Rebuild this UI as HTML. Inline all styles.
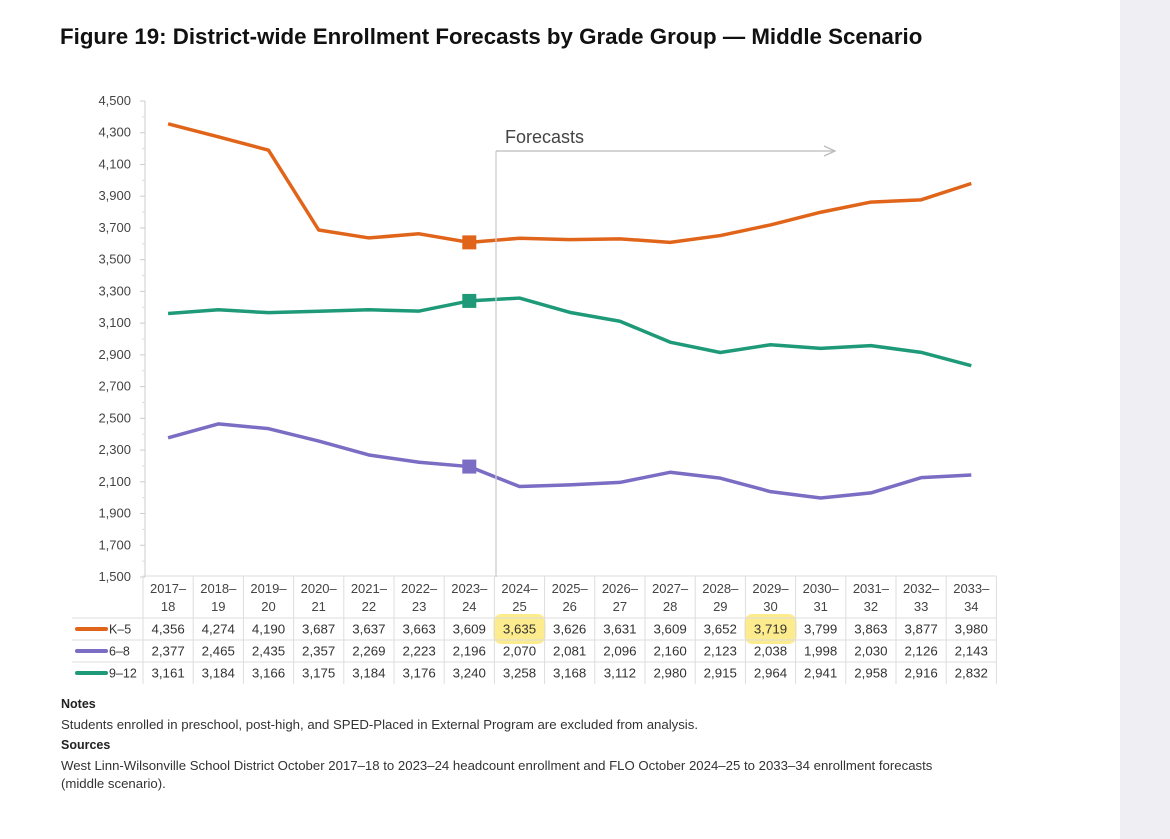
<!DOCTYPE html>
<html><head><meta charset="utf-8"><style>
body{margin:0;width:1170px;height:839px;background:#fff;font-family:"Liberation Sans",sans-serif;overflow:hidden;position:relative}
.side{position:absolute;left:1120px;top:0;width:50px;height:839px;background:#efeff3}
</style></head><body>
<div class="side"></div>
<svg width="1170" height="839" style="position:absolute;left:0;top:0" id="chart">
<text x="60" y="44" font-size="22.3" font-weight="bold" fill="#111">Figure 19: District-wide Enrollment Forecasts by Grade Group — Middle Scenario</text>
<g id="axis"></g><g id="table"></g><g id="series"></g>
<g>
<line x1="496" y1="151" x2="496" y2="577" stroke="#ccc" stroke-width="1.3"/>
<line x1="496" y1="151" x2="833" y2="151" stroke="#bbb" stroke-width="1.3"/>
<path d="M824,146 L835,151 L824,156" fill="none" stroke="#bbb" stroke-width="1.3"/>
<text x="505" y="143" font-size="18" fill="#444">Forecasts</text>
</g>
<text x="61" y="708" font-size="12.5" font-weight="bold" fill="#222">Notes</text>
<text x="61" y="729" font-size="13.2" fill="#333">Students enrolled in preschool, post-high, and SPED-Placed in External Program are excluded from analysis.</text>
<text x="61" y="749" font-size="12.5" font-weight="bold" fill="#222">Sources</text>
<text x="61" y="770" font-size="13.2" fill="#333">West Linn-Wilsonville School District October 2017–18 to 2023–24 headcount enrollment and FLO October 2024–25 to 2033–34 enrollment forecasts</text>
<text x="61" y="788" font-size="13.2" fill="#333">(middle scenario).</text>
</svg>
<script>
const years=["2017–|18","2018–|19","2019–|20","2020–|21","2021–|22","2022–|23","2023–|24","2024–|25","2025–|26","2026–|27","2027–|28","2028–|29","2029–|30","2030–|31","2031–|32","2032–|33","2033–|34"];
const k5=[4356,4274,4190,3687,3637,3663,3609,3635,3626,3631,3609,3652,3719,3799,3863,3877,3980];
const g68=[2377,2465,2435,2357,2269,2223,2196,2070,2081,2096,2160,2123,2038,1998,2030,2126,2143];
const g912=[3161,3184,3166,3175,3184,3176,3240,3258,3168,3112,2980,2915,2964,2941,2958,2916,2832];
const yTicks=[4500,4300,4100,3900,3700,3500,3300,3100,2900,2700,2500,2300,2100,1900,1700,1500];
const NS="http://www.w3.org/2000/svg";
const x0=143,cw=50.2,yTop=101,yBot=577,vMin=1500,vMax=4500;
const xs=i=>x0+cw*(i+0.5);
const ys=v=>yBot-(v-vMin)/(vMax-vMin)*(yBot-yTop);
function mk(tag,attrs,parent,txt){const e=document.createElementNS(NS,tag);for(const k in attrs)e.setAttribute(k,attrs[k]);if(txt!==undefined)e.textContent=txt;parent.appendChild(e);return e;}
const ax=document.getElementById('axis');
mk('line',{x1:145,y1:yTop,x2:145,y2:yBot,stroke:'#ccc'},ax);
yTicks.forEach(v=>{const y=ys(v);
 mk('line',{x1:140,y1:y,x2:145,y2:y,stroke:'#ccc'},ax);
 const t=mk('text',{x:131,y:y+4,'font-size':13,fill:'#444','text-anchor':'end'},ax,v.toLocaleString('en-US'));
 
 
});
for(let v=vMin+100;v<vMax;v+=200){const y=ys(v);mk('line',{x1:142,y1:y,x2:145,y2:y,stroke:'#ddd'},ax);}
const tb=document.getElementById('table');
[[7,0],[12,0]].forEach(([c,r])=>{const h=mk('rect',{x:x0+cw*c-1,y:614,width:cw+2,height:30,rx:8,fill:'#fde97a',opacity:0.85},tb);
 
 });
mk('line',{x1:x0,y1:576,x2:x0+cw*17,y2:576,stroke:'#ddd'},tb);
mk('line',{x1:72,y1:618,x2:x0+cw*17,y2:618,stroke:'#ddd'},tb);
mk('line',{x1:72,y1:640,x2:x0+cw*17,y2:640,stroke:'#ddd'},tb);
mk('line',{x1:72,y1:662,x2:x0+cw*17,y2:662,stroke:'#ddd'},tb);
for(let i=0;i<=17;i++)mk('line',{x1:x0+cw*i,y1:576,x2:x0+cw*i,y2:684,stroke:'#ddd'},tb);
years.forEach((yr,i)=>{const [a,b]=yr.split('|');
 const t1=mk('text',{x:xs(i),y:593,'font-size':13,fill:'#444','text-anchor':'middle'},tb,a);
 
 
 const t2=mk('text',{x:xs(i),y:611,'font-size':13,fill:'#444','text-anchor':'middle'},tb,b);
 
 
});
const series=[{n:'K–5',d:k5,c:'#e0651a',ry:629,key:'k-5'},{n:'6–8',d:g68,c:'#7b6cc4',ry:651,key:'6-8'},{n:'9–12',d:g912,c:'#1e9a78',ry:673,key:'9-12'}];
const sg=document.getElementById('series');
series.forEach(s=>{
 const leg=mk('line',{x1:77,y1:s.ry,x2:106,y2:s.ry,stroke:s.c,'stroke-width':4,'stroke-linecap':'round'},tb);
 
 
 mk('text',{x:109,y:s.ry+4.5,'font-size':12.5,fill:'#333'},tb,s.n);
 s.d.forEach((v,i)=>{const t=mk('text',{x:xs(i),y:s.ry+4.5,'font-size':13.3,fill:'#333','text-anchor':'middle'},tb,v.toLocaleString('en-US'));
  
  });
 const p=mk('polyline',{points:s.d.map((v,i)=>xs(i)+','+ys(v)).join(' '),fill:'none',stroke:s.c,'stroke-width':3.5,'stroke-linejoin':'round'},sg);
 
 
 const m=mk('rect',{x:xs(6)-7,y:ys(s.d[6])-7,width:14,height:14,fill:s.c},sg);
 
 
});
</script>
</body></html>
